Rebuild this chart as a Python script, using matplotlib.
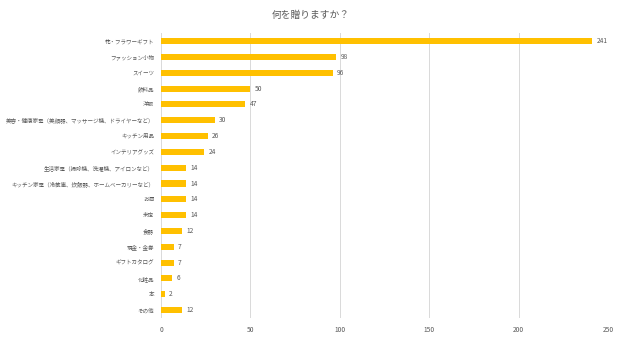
import matplotlib
matplotlib.use("Agg")
import matplotlib.pyplot as plt

plt.rcParams['font.family'] = ['Noto Sans CJK JP', 'DejaVu Sans']

# data, top to bottom
categories = [
    "花・フラワーギフト",
    "ファッション小物",
    "スイーツ",
    "飲料品",
    "洋服",
    "美容・健康家電（美顔器、マッサージ機、ドライヤーなど）",
    "キッチン用品",
    "インテリアグッズ",
    "生活家電（掃除機、洗濯機、アイロンなど）",
    "キッチン家電（冷蔵庫、炊飯器、ホームベーカリーなど）",
    "お酒",
    "未定",
    "食器",
    "現金・金券",
    "ギフトカタログ",
    "化粧品",
    "本",
    "その他",
]
counts = [241, 98, 96, 50, 47, 30, 26, 24, 14, 14, 14, 14, 12, 7, 7, 6, 2, 12]
x_ticks = [0, 50, 100, 150, 200, 250]

text_color = "#595959"
bar_color = "#FFC000"

fig = plt.figure(figsize=(6.21, 3.38), dpi=100)
ax = fig.add_axes([0.2593, 0.059, 0.7197, 0.843])

y = list(range(len(categories)))
ax.barh(y, counts, height=0.38, color=bar_color, zorder=2)
for yi, v in zip(y, counts):
    ax.text(v + 2.5, yi, str(v), va="center", ha="left", fontsize=4.8, color=text_color)

ax.set_yticks(y)
ax.set_yticklabels(categories, fontsize=4.0, color=text_color)
ax.set_ylim(len(categories) - 0.5, -0.5)
ax.set_xlim(0, 250)
ax.set_xticks(x_ticks)
ax.set_xticklabels([str(t) for t in x_ticks], fontsize=4.8, color=text_color)
ax.tick_params(axis="y", length=0, pad=5)
ax.tick_params(axis="x", length=0, pad=6)
ax.grid(axis="x", color="#D9D9D9", linewidth=0.7, zorder=0)
for s in ax.spines.values():
    s.set_visible(False)

fig.suptitle("何を贈りますか？", x=0.5, y=0.97, fontsize=7, color=text_color)

fig.savefig("out.png", dpi=100)
